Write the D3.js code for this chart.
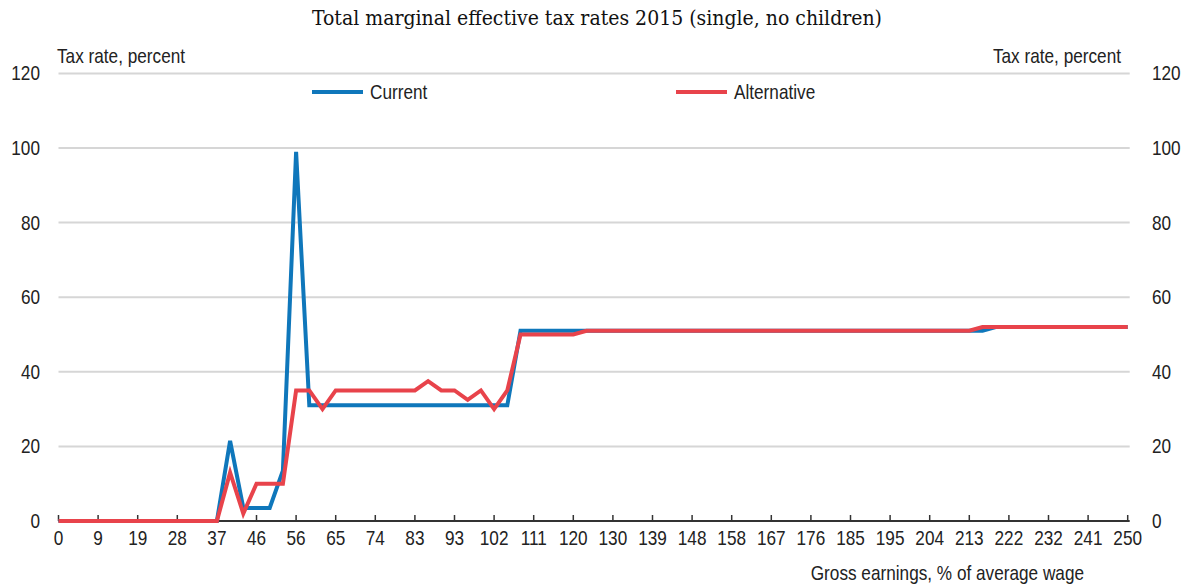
<!DOCTYPE html>
<html>
<head>
<meta charset="utf-8">
<script src="https://cdn.jsdelivr.net/npm/d3@7"></script>
<style>
  html, body { margin: 0; padding: 0; background: #fff; }
  svg { display: block; }
  .lbl { font-family: "Liberation Sans", Arial, sans-serif; fill: #222; font-size: 20px; }
  .ttl { font-family: "DejaVu Serif Condensed", "DejaVu Serif", serif; font-stretch: condensed; fill: #111; }
</style>
</head>
<body>
<svg id="chart" width="1182" height="585"></svg>
<script>
// Gross earnings (% of average wage) shown under every third point
const xTickLabels = ["0","9","19","28","37","46","56","65","74","83","93","102","111","120",
  "130","139","148","158","167","176","185","195","204","213","222","232","241","250"];

// Total marginal effective tax rate, percent (82 earnings points)
const current = [
  0,0,0,0,0,0,0,0,0,0,0,0,0,
  21.5,3.5,3.5,3.5,13.5,99,
  31,31,31,31,31,31,31,31,31,31,31,31,31,31,31,31,
  51,51,51,51,51,51,51,51,51,51,51,51,51,51,51,51,51,51,51,51,51,51,51,51,51,51,51,51,51,51,51,51,51,51,51,51,
  52,52,52,52,52,52,52,52,52,52,52
];
const alternative = [
  0,0,0,0,0,0,0,0,0,0,0,0,0,
  13,2,10,10,10,35,
  35,30,35,35,35,35,35,35,35,37.5,35,35,32.5,35,30,35,
  50,50,50,50,50,51,51,51,51,51,51,51,51,51,51,51,51,51,51,51,51,51,51,51,51,51,51,51,51,51,51,51,51,51,51,
  52,52,52,52,52,52,52,52,52,52,52,52
];

const yTicks = [0, 20, 40, 60, 80, 100, 120];
const seriesNames = ["Current", "Alternative"];
const seriesColors = ["#0f77bb", "#e8434b"];

const svg = d3.select("#chart");
const plotLeft = 58.5, plotRight = 1127.7, plotTop = 73.4, plotBottom = 521;
const narrow = 0.86; // horizontal squeeze to get a narrow sans look

const x = d3.scaleLinear().domain([0, current.length - 1]).range([plotLeft, plotRight]);
const y = d3.scaleLinear().domain([0, 120]).range([plotBottom, plotTop]);

// narrow label helper
function label(parent, tx, ty, anchor, str, dy) {
  return parent.append("text").attr("class", "lbl")
    .attr("transform", `translate(${tx},${ty}) scale(${narrow},1)`)
    .attr("text-anchor", anchor)
    .attr("dy", dy || null)
    .text(str);
}

// horizontal gridlines
svg.append("g").selectAll("line")
  .data(yTicks.filter(d => d > 0))
  .join("line")
  .attr("x1", plotLeft).attr("x2", plotRight + 2)
  .attr("y1", d => y(d)).attr("y2", d => y(d))
  .attr("stroke", "#d6d6d6").attr("stroke-width", 2);

// y tick labels on both sides
const yl = svg.append("g");
yTicks.forEach(d => {
  label(yl, 40, y(d), "end", d, "0.35em");
  label(yl, 1152, y(d), "start", d, "0.35em");
});

// x axis: baseline, ticks pointing up, labels every third point
const tickIdx = xTickLabels.map((_, i) => i * 3);
const xAxis = svg.append("g");
xAxis.append("line").attr("x1", plotLeft).attr("x2", plotRight + 2)
  .attr("y1", plotBottom).attr("y2", plotBottom)
  .attr("stroke", "#333").attr("stroke-width", 2);
xAxis.selectAll("line.t").data(tickIdx).join("line").attr("class", "t")
  .attr("x1", d => x(d)).attr("x2", d => x(d))
  .attr("y1", plotBottom).attr("y2", plotBottom - 6)
  .attr("stroke", "#333").attr("stroke-width", 1.5);
tickIdx.forEach((d, i) => label(xAxis, x(d), 545, "middle", xTickLabels[i]));

// series lines
const line = d3.line().x((d, i) => x(i)).y(d => y(d));
[current, alternative].forEach((s, k) => {
  svg.append("path").datum(s)
    .attr("fill", "none").attr("stroke", seriesColors[k])
    .attr("stroke-width", 4).attr("stroke-linejoin", "miter")
    .attr("d", line);
});

// legend
const legendX = [312, 676];
seriesNames.forEach((n, k) => {
  svg.append("line").attr("x1", legendX[k]).attr("x2", legendX[k] + 51)
    .attr("y1", 92).attr("y2", 92)
    .attr("stroke", seriesColors[k]).attr("stroke-width", 4);
  label(svg, legendX[k] + 58, 99, "start", n);
});

// axis titles
label(svg, 57, 63, "start", "Tax rate, percent");
label(svg, 1121, 63, "end", "Tax rate, percent");
label(svg, 1084, 580, "end", "Gross earnings, % of average wage");

// chart title
svg.append("text").attr("class", "ttl").attr("x", 597).attr("y", 25)
  .attr("text-anchor", "middle").attr("font-size", 21)
  .text("Total marginal effective tax rates 2015 (single, no children)");
</script>
</body>
</html>
